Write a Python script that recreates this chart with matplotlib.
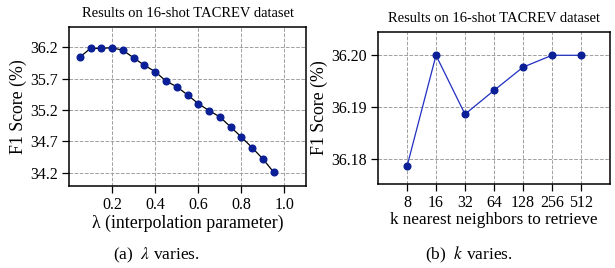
import matplotlib
matplotlib.use("Agg")
import matplotlib.pyplot as plt

plt.rcParams["font.family"] = ["Liberation Serif", "DejaVu Serif"]
plt.rcParams["mathtext.fontset"] = "stix"

# (a) lambda sweep
lambdas = [0.05, 0.10, 0.15, 0.20, 0.25, 0.30, 0.35, 0.40, 0.45, 0.50,
           0.55, 0.60, 0.65, 0.70, 0.75, 0.80, 0.85, 0.90, 0.95]
f1_lambda = [36.04, 36.18, 36.18, 36.19, 36.15, 36.03, 35.91, 35.81, 35.66, 35.57,
             35.44, 35.30, 35.19, 35.09, 34.93, 34.77, 34.60, 34.42, 34.21]

# (b) k sweep
k_labels = ["8", "16", "32", "64", "128", "256", "512"]
f1_k = [36.1785, 36.2000, 36.1886, 36.1932, 36.1977, 36.2000, 36.2000]

title = "Results on 16-shot TACREV dataset"
marker_color = "#0b1f96"

fig = plt.figure(figsize=(6.15, 2.68), dpi=100)
ax1 = fig.add_axes([69 / 615, 1 - 186 / 268, 237 / 615, 159 / 268])
ax2 = fig.add_axes([378 / 615, 1 - 183.5 / 268, 232 / 615, 152 / 268])

grid_kw = dict(color="#a0a0a0", linestyle="--", linewidth=0.7)

ax1.plot(lambdas, f1_lambda, color="black", linewidth=0.9, marker="o",
         markersize=4.8, markerfacecolor=marker_color, markeredgecolor=marker_color)
ax1.set_xlim(0, 1.1)
ax1.set_ylim(33.99, 36.52)
ax1.set_xticks([0.2, 0.4, 0.6, 0.8, 1.0])
ax1.set_yticks([34.2, 34.7, 35.2, 35.7, 36.2])
ax1.set_xlabel("λ (interpolation parameter)", fontsize=12.8, labelpad=1)
ax1.set_ylabel("F1 Score (%)", fontsize=12.8, labelpad=2)
ax1.set_title(title, fontsize=10.5, pad=7)

x = list(range(len(k_labels)))
ax2.plot(x, f1_k, color="#1f2fbf", linewidth=0.9, marker="o",
         markersize=4.8, markerfacecolor=marker_color, markeredgecolor=marker_color)
ax2.set_xlim(-1, 7)
ax2.set_ylim(36.1752, 36.2046)
ax2.set_xticks(x)
ax2.set_xticklabels(k_labels)
ax2.set_yticks([36.18, 36.19, 36.20])
ax2.set_yticklabels(["36.18", "36.19", "36.20"])
ax2.set_xlabel("k nearest neighbors to retrieve", fontsize=12.3, labelpad=1)
ax2.set_ylabel("F1 Score (%)", fontsize=12.8, labelpad=2)
ax2.set_title(title, fontsize=10.5, pad=7)

for ax in (ax1, ax2):
    ax.grid(True, **grid_kw)
    ax.tick_params(labelsize=11.5, length=5, width=0.9, pad=3)
    for s in ax.spines.values():
        s.set_linewidth(1.1)

fig.text(156 / 615, 1 - 255 / 268, r"(a)  $\lambda$ varies.", fontsize=12.5,
         ha="center", va="center")
fig.text(469 / 615, 1 - 255 / 268, r"(b)  $k$ varies.", fontsize=12.5,
         ha="center", va="center")

fig.savefig("out.png", dpi=100)
